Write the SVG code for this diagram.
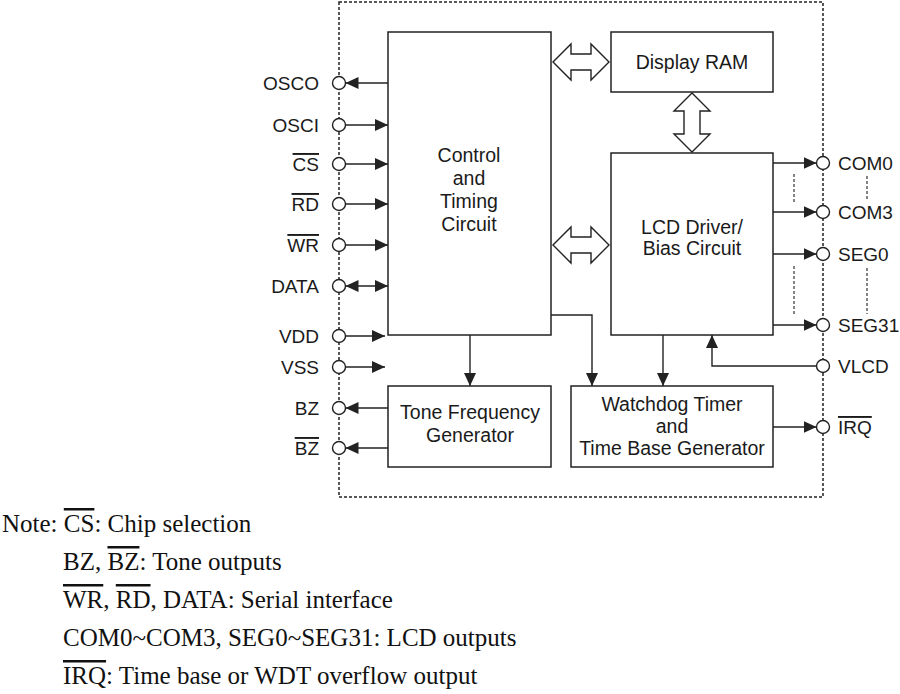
<svg xmlns="http://www.w3.org/2000/svg" width="900" height="694" viewBox="0 0 900 694">
<style>
.blk{fill:#fff;stroke:#222;stroke-width:1.5}
.ln{fill:none;stroke:#222;stroke-width:1.4}
.arr{fill:none;stroke:#222;stroke-width:1.4;marker-end:url(#ah)}
.pin{fill:#fff;stroke:#222;stroke-width:1.4}
.hol{fill:#fff;stroke:#222;stroke-width:1.4;stroke-linejoin:miter}
.dash{fill:none;stroke:#222;stroke-width:1.5;stroke-dasharray:3 2}
.dl{fill:none;stroke:#333;stroke-width:1.2;stroke-dasharray:3 2}
.t{font-family:"Liberation Sans",Arial,sans-serif;font-size:19.5px;fill:#1a1a1a}
.p{font-family:"Liberation Sans",Arial,sans-serif;font-size:19px;fill:#1a1a1a}
.c{text-anchor:middle}
.e{text-anchor:end}
.n{font-family:"Liberation Serif","Times New Roman",serif;font-size:25px;fill:#111}
.ov{text-decoration:overline}
</style>
<defs>
<marker id="ah" viewBox="0 0 13 12" refX="13" refY="6" markerWidth="13" markerHeight="12" markerUnits="userSpaceOnUse" orient="auto-start-reverse">
<path d="M0,0 L13,6 L0,12 z" fill="#222"/>
</marker>
</defs>

<rect id="frame" class="dash" x="339" y="2" width="484" height="495"/>

<g id="connectors">
<line class="arr" x1="388" y1="83" x2="345.5" y2="83"/>
<line class="arr" x1="345.5" y1="125" x2="388" y2="125"/>
<line class="arr" x1="345.5" y1="164" x2="388" y2="164"/>
<line class="arr" x1="345.5" y1="204" x2="388" y2="204"/>
<line class="arr" x1="345.5" y1="245" x2="388" y2="245"/>
<line class="arr" x1="345.5" y1="286" x2="388" y2="286" style="marker-start:url(#ah)"/>
<line class="arr" x1="345.5" y1="336" x2="385" y2="336"/>
<line class="arr" x1="345.5" y1="367" x2="385" y2="367"/>
<line class="arr" x1="388" y1="408" x2="345.5" y2="408"/>
<line class="arr" x1="388" y1="448" x2="345.5" y2="448"/>
<line class="arr" x1="470" y1="335" x2="470" y2="386"/>
<polyline class="arr" points="551,315 592,315 592,386"/>
<line class="arr" x1="663" y1="335" x2="663" y2="386"/>
<polyline class="arr" points="816.5,366 712,366 712,335"/>
<line class="arr" x1="773" y1="163" x2="816.5" y2="163"/>
<line class="arr" x1="773" y1="212" x2="816.5" y2="212"/>
<line class="arr" x1="773" y1="254" x2="816.5" y2="254"/>
<line class="arr" x1="773" y1="325" x2="816.5" y2="325"/>
<line class="arr" x1="773" y1="427" x2="816.5" y2="427"/>
<polygon class="hol" points="553,62 571,44 571,54 591,54 591,44 609,62 591,80 591,70 571,70 571,80"/>
<polygon class="hol" points="553,245 571,227 571,237 591,237 591,227 609,245 591,263 591,253 571,253 571,263"/>
<polygon class="hol" points="692,93 710,111 700,111 700,134 710,134 692,152 674,134 684,134 684,111 674,111"/>
<line class="dl" x1="794" y1="174" x2="794" y2="203"/>
<line class="dl" x1="867" y1="176" x2="867" y2="201"/>
<line class="dl" x1="794" y1="266" x2="794" y2="315"/>
<line class="dl" x1="867" y1="268" x2="867" y2="314"/>
</g>

<g id="control">
<rect class="blk" x="388" y="32" width="163" height="303"/>
<text class="t c" x="469" y="162">Control</text>
<text class="t c" x="469" y="185">and</text>
<text class="t c" x="469" y="208">Timing</text>
<text class="t c" x="469" y="231">Circuit</text>
</g>
<g id="ram">
<rect class="blk" x="611" y="32" width="162" height="60"/>
<text class="t c" x="692" y="69">Display RAM</text>
</g>
<g id="lcd">
<rect class="blk" x="611" y="153" width="162" height="182"/>
<text class="t c" x="692" y="234">LCD Driver/</text>
<text class="t c" x="692" y="255">Bias Circuit</text>
</g>
<g id="tone">
<rect class="blk" x="388" y="386" width="163" height="81"/>
<text class="t c" x="470" y="419">Tone Frequency</text>
<text class="t c" x="470" y="442">Generator</text>
</g>
<g id="wdt">
<rect class="blk" x="571" y="386" width="202" height="81"/>
<text class="t c" x="672" y="411">Watchdog Timer</text>
<text class="t c" x="672" y="433">and</text>
<text class="t c" x="672" y="455">Time Base Generator</text>
</g>

<g id="pins-left">
<circle class="pin" cx="339" cy="83" r="6.5"/><text class="p e" x="319" y="90">OSCO</text>
<circle class="pin" cx="339" cy="125" r="6.5"/><text class="p e" x="319" y="132">OSCI</text>
<circle class="pin" cx="339" cy="164" r="6.5"/><text class="p e" x="319" y="171"><tspan class="ov">CS</tspan></text>
<circle class="pin" cx="339" cy="204" r="6.5"/><text class="p e" x="319" y="211"><tspan class="ov">RD</tspan></text>
<circle class="pin" cx="339" cy="245" r="6.5"/><text class="p e" x="319" y="252"><tspan class="ov">WR</tspan></text>
<circle class="pin" cx="339" cy="286" r="6.5"/><text class="p e" x="319" y="293">DATA</text>
<circle class="pin" cx="339" cy="336" r="6.5"/><text class="p e" x="319" y="343">VDD</text>
<circle class="pin" cx="339" cy="367" r="6.5"/><text class="p e" x="319" y="374">VSS</text>
<circle class="pin" cx="339" cy="408" r="6.5"/><text class="p e" x="319" y="415">BZ</text>
<circle class="pin" cx="339" cy="448" r="6.5"/><text class="p e" x="319" y="455"><tspan class="ov">BZ</tspan></text>
</g>
<g id="pins-right">
<circle class="pin" cx="823" cy="163" r="6.5"/><text class="p" x="838" y="170">COM0</text>
<circle class="pin" cx="823" cy="212" r="6.5"/><text class="p" x="838" y="219">COM3</text>
<circle class="pin" cx="823" cy="254" r="6.5"/><text class="p" x="838" y="261">SEG0</text>
<circle class="pin" cx="823" cy="325" r="6.5"/><text class="p" x="838" y="332">SEG31</text>
<circle class="pin" cx="823" cy="366" r="6.5"/><text class="p" x="838" y="373">VLCD</text>
<circle class="pin" cx="823" cy="427" r="6.5"/><text class="p" x="838" y="434"><tspan class="ov">IRQ</tspan></text>
</g>

<g id="note">
<text class="n" x="2" y="532">Note: <tspan class="ov">CS</tspan>: Chip selection</text>
<text class="n" x="63" y="570">BZ, <tspan class="ov">BZ</tspan>: Tone outputs</text>
<text class="n" x="63" y="608"><tspan class="ov">WR</tspan>, <tspan class="ov">RD</tspan>, DATA: Serial interface</text>
<text class="n" x="63" y="646">COM0~COM3, SEG0~SEG31: LCD outputs</text>
<text class="n" x="63" y="684"><tspan class="ov">IRQ</tspan>: Time base or WDT overflow output</text>
</g>
</svg>
